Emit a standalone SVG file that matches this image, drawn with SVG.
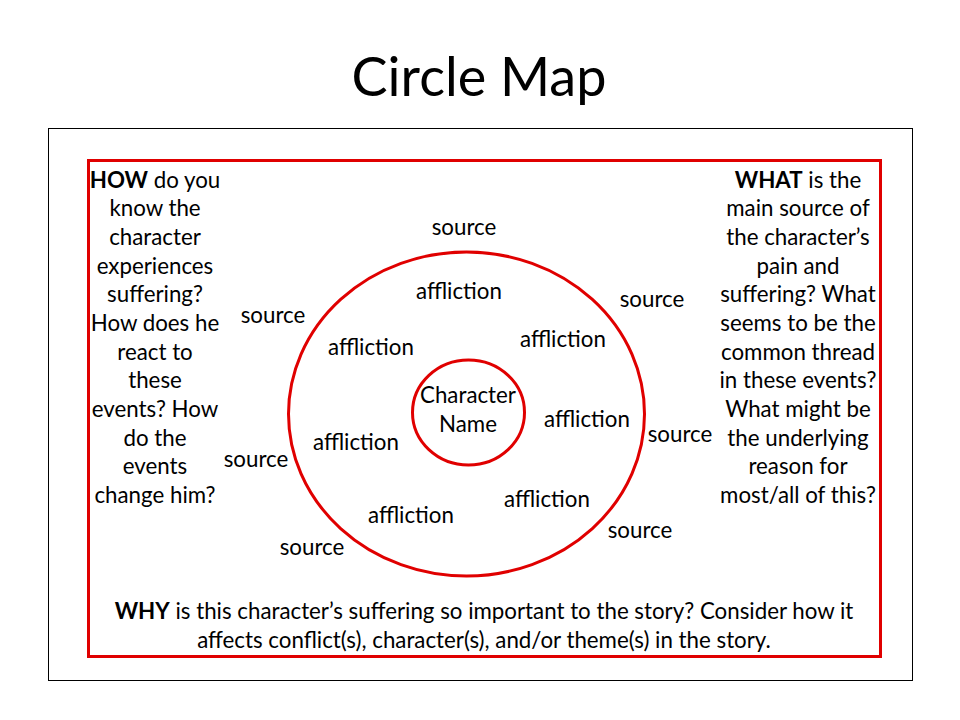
<svg xmlns="http://www.w3.org/2000/svg" width="960" height="720" viewBox="0 0 960 720">
<style>
text{font-family:Lato,"Open Sans","Liberation Sans",sans-serif;fill:#000;text-anchor:middle;font-size:22.3px}
.title{font-size:54px}
.red{fill:none;stroke:#e00000;stroke-width:3}
.b{font-weight:bold}
</style>
<rect width="960" height="720" fill="#fff"/>
<text class="title" x="479" y="96">Circle Map</text>
<g id="frame">
<rect x="48.5" y="128.5" width="864" height="552" fill="none" stroke="#000" stroke-width="1"/>
<rect class="red" x="88.5" y="160.5" width="792" height="496"/>
</g>
<g id="outer-circle">
<ellipse class="red" cx="466.5" cy="414" rx="178" ry="162"/>
</g>
<g id="center">
<ellipse class="red" cx="468.5" cy="412.5" rx="56" ry="52.5"/>
<text x="468" y="403">Character</text>
<text x="468" y="432">Name</text>
</g>
<g id="afflictions">
<text x="459" y="299">affliction</text>
<text x="563" y="347">affliction</text>
<text x="371" y="355">affliction</text>
<text x="587" y="427">affliction</text>
<text x="356" y="450">affliction</text>
<text x="547" y="507">affliction</text>
<text x="411" y="523">affliction</text>
</g>
<g id="sources">
<text x="464" y="235">source</text>
<text x="652" y="307">source</text>
<text x="273" y="323">source</text>
<text x="680" y="442">source</text>
<text x="256" y="467">source</text>
<text x="640" y="538">source</text>
<text x="312" y="555">source</text>
</g>
<g id="how">
<text x="155" y="188"><tspan class="b">HOW</tspan> do you</text>
<text x="155" y="216">know the</text>
<text x="155" y="245">character</text>
<text x="155" y="274">experiences</text>
<text x="155" y="302">suffering?</text>
<text x="155" y="331">How does he</text>
<text x="155" y="360">react to</text>
<text x="155" y="388">these</text>
<text x="155" y="417">events? How</text>
<text x="155" y="446">do the</text>
<text x="155" y="474">events</text>
<text x="155" y="503">change him?</text>
</g>
<g id="what">
<text x="798" y="188"><tspan class="b">WHAT</tspan> is the</text>
<text x="798" y="216">main source of</text>
<text x="798" y="245">the character’s</text>
<text x="798" y="274">pain and</text>
<text x="798" y="302">suffering? What</text>
<text x="798" y="331">seems to be the</text>
<text x="798" y="360">common thread</text>
<text x="798" y="388">in these events?</text>
<text x="798" y="417">What might be</text>
<text x="798" y="446">the underlying</text>
<text x="798" y="474">reason for</text>
<text x="798" y="503">most/all of this?</text>
</g>
<g id="why">
<text x="484" y="619"><tspan class="b">WHY</tspan> is this character’s suffering so important to the story? Consider how it</text>
<text x="484" y="648">affects conflict(s), character(s), and/or theme(s) in the story.</text>
</g>
</svg>
